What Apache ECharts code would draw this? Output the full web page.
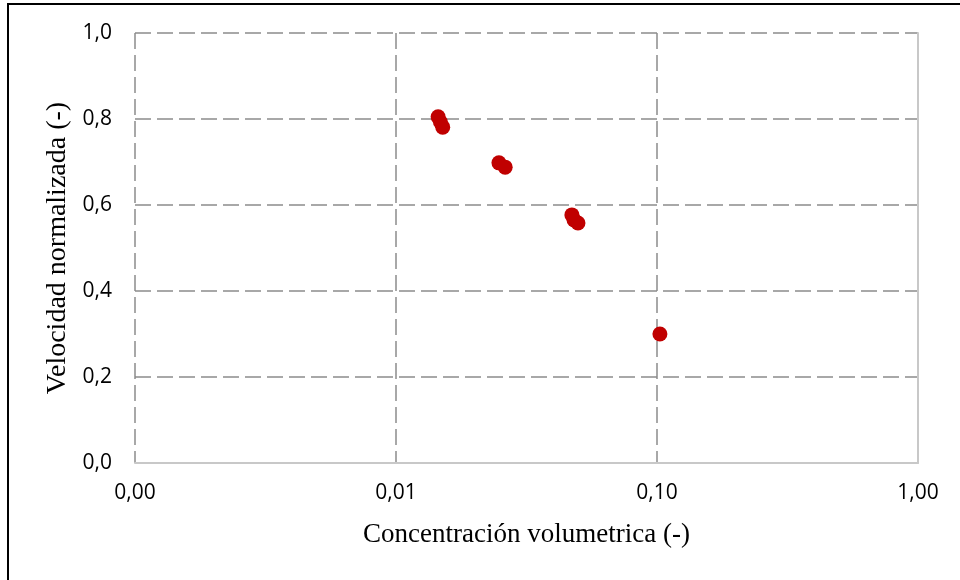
<!DOCTYPE html>
<html>
<head>
<meta charset="utf-8">
<script src="https://cdn.jsdelivr.net/npm/echarts@6/dist/echarts.min.js"></script>
<style>
  html, body { margin: 0; padding: 0; background: #fff; }
  #chart { width: 960px; height: 580px; }
</style>
</head>
<body>
<div id="chart"></div>
<script>
  // volumetric concentration (-) vs normalised velocity (-)
  const concentracion = [0.0145, 0.0148, 0.0151, 0.0248, 0.0262, 0.0472, 0.0481, 0.0498, 0.1026];
  const velocidad = [0.805, 0.793, 0.781, 0.698, 0.688, 0.577, 0.565, 0.558, 0.300];
  const xTicks = [0.001, 0.01, 0.1, 1];
  const yTicks = [0, 0.2, 0.4, 0.6, 0.8, 1.0];

  const points = concentracion.map((c, i) => [c, velocidad[i]]);
  const comma = (v, d) => v.toFixed(d).replace(".", ",");
  const dash = { color: "#8c8c8c", width: 1.5, type: [16, 6] };

  const chart = echarts.init(document.getElementById("chart"));
  chart.setOption({
    animation: false,
    grid: { left: 135, right: 42, top: 33, bottom: 117 },
    graphic: [
      {
        type: "rect",
        shape: { x: 8, y: 4, width: 1000, height: 1000 },
        style: { fill: "none", stroke: "#000", lineWidth: 2 },
      },
    ],
    xAxis: {
      type: "log",
      logBase: 10,
      min: xTicks[0],
      max: xTicks[xTicks.length - 1],
      name: "Concentración volumetrica (-)",
      nameLocation: "middle",
      nameGap: 58,
      nameTextStyle: { fontFamily: "Liberation Serif", fontSize: 27, color: "#000" },
      axisLine: { show: true, lineStyle: { color: "#c8c8c8", width: 2 } },
      axisTick: { show: false },
      axisLabel: {
        margin: 20,
        fontFamily: "Open Sans",
        fontSize: 21,
        color: "#000",
        formatter: (v) => comma(v, 2),
      },
      splitLine: { show: true, lineStyle: dash },
    },
    yAxis: [
      {
        type: "value",
        min: yTicks[0],
        max: yTicks[yTicks.length - 1],
        interval: 0.2,
        name: "Velocidad normalizada (-)",
        nameLocation: "middle",
        nameGap: 58,
        nameTextStyle: { fontFamily: "Liberation Serif", fontSize: 28, color: "#000" },
        axisLine: { show: false },
        axisTick: { show: false },
        axisLabel: {
          margin: 23,
          fontFamily: "Open Sans",
          fontSize: 21,
          color: "#000",
          formatter: (v) => comma(v, 1),
        },
        splitLine: { show: true, lineStyle: dash },
      },
      {
        type: "value",
        position: "right",
        min: yTicks[0],
        max: yTicks[yTicks.length - 1],
        interval: 0.2,
        axisLine: { show: true, lineStyle: { color: "#c8c8c8", width: 2 } },
        axisTick: { show: false },
        axisLabel: { show: false },
        splitLine: { show: false },
      },
    ],
    series: [
      {
        type: "scatter",
        data: points,
        symbolSize: 15,
        itemStyle: { color: "#c00000", opacity: 1 },
      },
    ],
  });
</script>
</body>
</html>
